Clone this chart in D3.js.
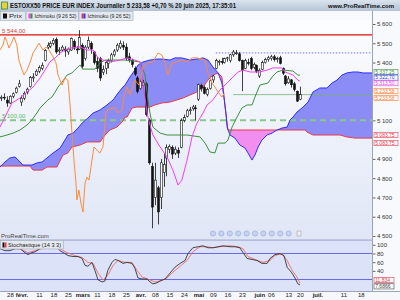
<!DOCTYPE html>
<html>
<head>
<meta charset="utf-8">
<script src="https://cdn.jsdelivr.net/npm/d3@7"></script>
<style>
  body { margin: 0; background: #fff; }
  svg { display: block; font-family: "Liberation Sans", Arial, sans-serif; }
</style>
</head>
<body>
<svg id="chart" width="400" height="300"></svg>
<script>
// daily candles, first one is day -2 (23 jan), day 0 = 27 jan, day 101 = 20 juin
var firstDay = -2;
var opens = [5215,5220,5205,5190,5225,5245,5275,5195,5215,5245,5275,5320,5335,5355,5370,5410,5480,5485,5500,5520,
  5460,5465,5470,5455,5465,5510,5470,5470,5490,5420,5480,5500,5455,5405,5420,5350,5370,5395,5410,5440,
  5465,5480,5490,5480,5430,5410,5370,5320,5265,5280,5290,5100,4860,4700,4750,4700,4830,4905,4950,4960,
  4930,4945,4960,5100,5120,5150,5160,5165,5210,5280,5270,5235,5265,5310,5370,5400,5405,5400,5420,5410,
  5440,5450,5445,5410,5370,5400,5420,5375,5385,5330,5365,5400,5415,5420,5430,5415,5425,5370,5330,5295,
  5310,5290,5250,5210];
var highs = [5230,5240,5225,5230,5245,5275,5310,5230,5250,5270,5330,5345,5365,5385,5400,5470,5505,5510,5527,5530,
  5480,5490,5485,5478,5530,5520,5485,5568,5500,5490,5535,5510,5460,5430,5430,5385,5410,5420,5450,5470,
  5500,5515,5510,5500,5450,5420,5380,5330,5320,5310,5300,5110,4880,4880,4760,4900,4930,4975,4975,4970,
  4965,4960,5110,5130,5160,5170,5180,5180,5290,5290,5280,5270,5315,5335,5420,5415,5425,5425,5430,5445,
  5465,5465,5455,5415,5420,5420,5430,5400,5390,5370,5410,5425,5435,5440,5440,5430,5435,5375,5335,5330,
  5315,5300,5255,5275];
var lows = [5200,5205,5170,5185,5215,5240,5270,5175,5205,5235,5270,5300,5330,5345,5360,5405,5470,5475,5490,5445,
  5440,5455,5430,5440,5460,5465,5445,5465,5365,5410,5470,5445,5390,5350,5305,5335,5340,5370,5400,5430,
  5455,5470,5465,5410,5400,5375,5330,5240,5260,5265,5120,4870,4540,4660,4560,4640,4755,4810,4930,4900,
  4920,4905,4955,5090,5115,5130,5150,5100,5200,5250,5235,5225,5260,5295,5365,5385,5390,5395,5405,5400,
  5430,5440,5405,5252,5365,5385,5360,5365,5345,5320,5360,5395,5405,5410,5405,5400,5390,5335,5280,5290,
  5270,5250,5195,5205];
var closes = [5220,5218,5190,5225,5238,5267,5290,5215,5240,5262,5322,5325,5355,5375,5385,5463,5490,5500,5515,5455,
  5465,5480,5460,5470,5525,5475,5465,5530,5380,5480,5515,5470,5400,5370,5320,5365,5400,5410,5440,5460,
  5490,5500,5480,5420,5415,5390,5340,5250,5300,5295,5130,4880,4650,4790,4625,4880,4870,4960,4965,4925,
  4950,4930,5100,5115,5150,5155,5170,5160,5285,5265,5240,5260,5305,5330,5410,5405,5400,5420,5425,5440,
  5455,5450,5410,5360,5410,5395,5370,5390,5355,5360,5400,5415,5425,5430,5415,5420,5395,5345,5290,5315,
  5285,5260,5200,5233.58];

// ichimoku lines: [day, price]
var tenkan = [[-2.4,5065],[0,5138],[1.7,5190],[4.5,5216],[6.9,5247],[9,5273],[11.4,5320],[13.1,5361],[14.8,5403],
  [16.6,5424],[18.3,5450],[20,5465],[21.7,5475],[25.2,5481],[27.6,5465],[29.7,5465],[31.4,5424],[33.1,5413],
  [35.5,5403],[39,5413],[41.4,5424],[44.1,5413],[45.9,5403],[47.2,5257],[48.3,5138],[49.3,5076],[50.3,5024],
  [52.8,4962],[55.2,4910],[57.2,4842],[59,4764],[60.3,4790],[62.1,4894],[63.8,5014],[65.5,5086],[67.6,5138],
  [69,5180],[71,5206],[73.4,5257],[75.9,5294],[77.9,5325],[79.7,5351],[81.4,5361],[83.8,5351],[87.2,5351],
  [89.7,5361],[91.7,5372],[94.8,5372],[95.9,5351],[98.6,5335],[100.3,5309],[101,5304]];
var kijun = [[-2.4,5014],[0,5024],[2.1,5034],[4.5,5050],[6.9,5076],[8.6,5102],[10.3,5138],[11.4,5164],[13.1,5190],
  [14.1,5206],[15.5,5221],[16.6,5247],[17.6,5273],[19,5299],[20.7,5335],[22.4,5346],[23.4,5361],[25.2,5387],
  [26.2,5366],[30.3,5366],[32.1,5398],[33.8,5413],[40.7,5413],[45.9,5403],[47.6,5335],[48.6,5206],[49.3,5138],
  [50.3,5065],[52.8,5034],[55.2,5024],[62.1,5024],[66.6,5014],[68.3,4982],[70,4936],[71.7,4931],[72.8,4982],
  [75.2,4982],[76.2,4998],[77.6,5065],[79.3,5117],[81,5164],[82.8,5180],[84.5,5180],[85.5,5221],[87.2,5283],
  [90,5294],[91.4,5325],[93.1,5351],[95.2,5361],[98.6,5356],[100.3,5335],[101,5335]];
var chikou = [[-2.4,5465],[-1.4,5491],[-0.7,5533],[0,5507],[0.7,5475],[1.7,5507],[2.4,5533],[3.4,5491],[4.1,5413],
  [5.2,5361],[5.9,5335],[6.9,5361],[7.9,5398],[9,5450],[10.3,5481],[11,5501],[12.4,5465],[13.4,5481],[14.5,5465],
  [15.9,5429],[16.9,5398],[17.6,5335],[19,5283],[20,5320],[21,5309],[21.7,5190],[22.4,5034],[23.1,4894],
  [23.8,4775],[24.1,4687],[24.8,4738],[25.5,4671],[26.2,4624],[26.9,4775],[27.6,4806],[28.3,4790],[29.3,4894],
  [30,4962],[31,4946],[32,4930],[33.1,4962],[34.1,5138],[34.8,5154],[36.2,5164],[37.2,5164],[38.3,5138],
  [39.7,5154],[40.3,5221],[41.4,5273],[42.4,5232],[44.1,5309],[45.5,5283],[46.9,5377],[48.6,5398],[50.3,5403],
  [52.1,5450],[53.4,5439],[54.5,5398],[55.5,5335],[56.9,5398],[58.6,5403],[60.3,5413],[62,5403],[63.8,5424],
  [65.5,5424],[67.2,5418],[68.3,5413],[69.3,5346],[70.7,5294],[71.7,5273],[72.8,5247],[74.1,5221],[75,5242]];
var senkouA = [[-2.4,4858],[-0.7,4884],[1,4905],[2.8,4910],[4.5,4884],[5.5,4868],[8.6,4868],[10.3,4879],[12.1,4884],
  [13.8,4905],[15.9,4931],[18.3,4956],[20,4998],[21,5024],[22.8,5034],[24.5,5060],[25.9,5086],[27.9,5112],
  [29.7,5138],[32.1,5154],[34.5,5180],[36.6,5206],[38.3,5242],[40,5273],[40.7,5283],[42.4,5325],[44.1,5361],
  [45.2,5387],[46.9,5403],[49.3,5413],[51.7,5418],[53.8,5418],[56.2,5413],[57.9,5424],[60.3,5424],[63.1,5413],
  [65.5,5418],[67.6,5424],[69.3,5413],[71,5377],[72.8,5346],[74.1,5294],[74.8,5221],[75.5,5138],[75.9,5065],
  [76.9,5024],[78.6,5008],[80.3,4972],[82.1,4956],[83.1,4931],[84.5,4894],[85.5,4920],[86.6,4962],[87.9,4998],
  [89.7,5024],[91.4,5034],[93.1,5050],[94.8,5060],[96.6,5065],[97.6,5102],[98.6,5117],[100,5143],[102.1,5169],
  [103.8,5195],[105.5,5247],[107.9,5268],[110.3,5268],[112.1,5294],[113.8,5309],[115.5,5335],[117.2,5346],
  [119.3,5351],[121,5351],[122.8,5346],[125.9,5346]];
var senkouB = [[-2.4,4863],[7.9,4863],[9,4842],[12.1,4842],[13.8,4858],[17.2,4858],[19.3,4920],[21,4931],[22.4,4962],
  [25.2,4972],[27.6,4988],[32.1,4988],[33.8,5024],[35.5,5050],[37.9,5065],[39.7,5091],[40.7,5117],[41.4,5117],
  [43.1,5164],[44.8,5169],[49.3,5169],[51,5180],[53.4,5190],[56.2,5195],[58.6,5206],[60.7,5216],[63.1,5232],
  [65.5,5247],[67.6,5273],[69.3,5309],[71,5335],[72.8,5346],[74.1,5325],[74.5,5273],[75.2,5169],[75.9,5086],
  [76.2,5050],[102.8,5050],[103.4,5040],[105.5,5024],[114.8,5024],[117.2,5014],[120,5008],[125.9,5008]];

// stochastic (14 3 3): [day, value]
var stochK = [[-2.4,91],[-0.7,86.5],[1,86.5],[2.8,91],[4.5,91],[6.2,82],[7.2,77.5],[8.6,82],[9.7,84],[11.4,91],
  [13.1,97.7],[14.8,100],[16.6,97.7],[18.3,86.5],[20,79.7],[21,75.2],[22.8,73],[24.5,73],[25.9,68.5],[26.9,52.7],
  [27.9,50.5],[29.3,59.5],[30.3,41.4],[31.4,19],[32.8,14.4],[33.8,16.7],[34.8,41.4],[36.2,59.5],[37.2,66.2],
  [38.3,64],[40,57.2],[41.4,59.5],[43.1,57.2],[44.1,46],[45.2,23.4],[46.6,21.2],[48.3,21.2],[49.3,14.4],[50.3,10],
  [51.7,12.2],[52.8,16.7],[54.5,21.2],[56.2,34.7],[57.9,48.2],[59.7,57.2],[61.4,64],[62.4,79.7],[64.1,93.2],
  [65.9,95.5],[67.6,97.7],[69.3,93.2],[71,93.2],[72.8,95.5],[74.5,97.7],[76.9,95.5],[78.6,95.5],[80.3,93.2],
  [81.4,82],[82.8,68.5],[84.5,66.2],[86.2,64],[87.9,57.2],[89.7,57.2],[90.7,68.5],[92.4,77.5],[94.1,79.7],
  [95.5,75.2],[96.6,48.2],[98.3,34.7],[99.3,23.4],[100.3,10],[101,7.6866]];
var stochD = [[-2.4,93.2],[1,91],[4.5,91],[7.2,82],[9.7,86.5],[13.1,93.2],[15.5,97.7],[17.6,93.2],[20.7,82],
  [23.4,75.2],[25.9,70.7],[27.9,59.5],[29.7,57.2],[31.4,34.7],[33.1,19],[34.8,30],[36.6,52.7],[38.3,64],
  [40.7,59.5],[43.1,59.5],[44.8,41.4],[46.6,25.7],[48.6,21.2],[51,14.4],[52.8,16.7],[55.2,23.4],[57.2,37],
  [59.7,50.5],[62.1,64],[64.1,84],[66.6,95.5],[69,95.5],[71,93.2],[73.4,95.5],[76.9,97.7],[79.7,95.5],[81.4,91],
  [83.1,73],[85.5,66.2],[88.3,59.5],[90.7,64],[92.4,75.2],[94.8,79.7],[96.6,64],[98.3,41.4],[100,25.7],[101,11.834]];

// price labels that are not hidden behind the value tags
var priceTicks = [4500, 4600, 4700, 4800, 4900, 5100, 5400, 5500, 5600];
var stochTicks = [40, 60, 80, 100];
var xTickDays = [1, 5, 11, 16, 21, 26, 31, 36, 41, 46, 51, 56, 61, 66, 71, 76, 81, 87, 91, 97, 101, 107, 116, 122];
var xTickLabels = ['28', 'févr.', '11', '18', '25', 'mars', '11', '18', '25', 'avr.', '08', '15', '24', 'mai',
  '09', '16', '23', 'juin', '06', '13', '20', 'juil.', '11', '18'];
var monthNames = ['févr.', 'mars', 'avr.', 'mai', 'juin', 'juil.'];

var resistance = 5544, support = 5100, dottedLevel = 5450, lowLevel = 5233.58;
var stochLevels = [20, 80];

var svg = d3.select('#chart');
var W = 372;

var x = d3.scaleLinear().domain([-2.41, 125.86]).range([0, W]);
var y = d3.scaleLinear().domain([4500, 5600]).range([236, 24]);
var ys = d3.scaleLinear().domain([0, 100]).range([288.2, 244.8]);

var defs = svg.append('defs');
var bg = defs.append('linearGradient').attr('id', 'bgMain').attr('x1', 0).attr('x2', 0).attr('y1', 0).attr('y2', 1);
bg.append('stop').attr('offset', 0).attr('stop-color', '#fcfdff');
bg.append('stop').attr('offset', 1).attr('stop-color', '#e0e6f6');
var hd = defs.append('linearGradient').attr('id', 'bgHead').attr('x1', 0).attr('x2', 0).attr('y1', 0).attr('y2', 1);
hd.append('stop').attr('offset', 0).attr('stop-color', '#dbe4ee');
hd.append('stop').attr('offset', 1).attr('stop-color', '#b3c3d5');

defs.append('clipPath').attr('id', 'clipMain').append('rect')
  .attr('x', 0).attr('y', 20).attr('width', W).attr('height', 218);

var lineFn = d3.line().x(function(d) { return x(d[0]); }).y(function(d) { return y(d[1]); });

// cloud split along Senkou B
defs.append('clipPath').attr('id', 'aboveB').append('path')
  .attr('d', d3.area().x(function(d) { return x(d[0]); }).y0(20).y1(function(d) { return y(d[1]); })(senkouB));
defs.append('clipPath').attr('id', 'belowB').append('path')
  .attr('d', d3.area().x(function(d) { return x(d[0]); }).y0(function(d) { return y(d[1]); }).y1(240)(senkouB));

// backgrounds
svg.append('rect').attr('x', 0).attr('y', 0).attr('width', 400).attr('height', 300).attr('fill', '#f8f9fd');
svg.append('rect').attr('x', 0).attr('y', 20).attr('width', W).attr('height', 219).attr('fill', 'url(#bgMain)');
svg.append('rect').attr('x', 0).attr('y', 240).attr('width', W).attr('height', 51).attr('fill', '#dce2f7');

var main = svg.append('g').attr('clip-path', 'url(#clipMain)');

var cloudPath = lineFn(senkouA) + 'L' + senkouB.slice().reverse().map(function(d) {
  return x(d[0]) + ',' + y(d[1]);
}).join('L') + 'Z';
main.append('path').attr('d', cloudPath).attr('fill', '#8c8cf6').attr('clip-path', 'url(#aboveB)');
main.append('path').attr('d', cloudPath).attr('fill', '#f28ef0').attr('clip-path', 'url(#belowB)');

// horizontal levels
main.append('line').attr('x1', 0).attr('x2', W).attr('y1', y(support)).attr('y2', y(support))
  .attr('stroke', '#86c986').attr('stroke-width', 2).attr('stroke-dasharray', '6,4');
main.append('line').attr('x1', 0).attr('x2', W).attr('y1', y(resistance)).attr('y2', y(resistance))
  .attr('stroke', '#dd1111').attr('stroke-width', 1.3);
main.append('line').attr('x1', x(72)).attr('x2', W).attr('y1', y(dottedLevel)).attr('y2', y(dottedLevel))
  .attr('stroke', '#5a5af0').attr('stroke-width', 0.8).attr('stroke-dasharray', '1.5,1.5');
main.append('line').attr('x1', x(78)).attr('x2', W).attr('y1', y(lowLevel)).attr('y2', y(lowLevel))
  .attr('stroke', '#74b274').attr('stroke-width', 0.8);

main.append('path').attr('d', lineFn(senkouB)).attr('fill', 'none').attr('stroke', '#e8364a').attr('stroke-width', 1);
main.append('path').attr('d', lineFn(senkouA)).attr('fill', 'none').attr('stroke', '#2f2fff').attr('stroke-width', 1);

// candles
var candles = opens.map(function(o, i) {
  return { day: firstDay + i, o: o, h: highs[i], l: lows[i], c: closes[i] };
});
var cg = main.append('g');
cg.selectAll('.wick').data(candles).enter().append('line')
  .attr('x1', function(d) { return Math.round(x(d.day)) + 0.5; })
  .attr('x2', function(d) { return Math.round(x(d.day)) + 0.5; })
  .attr('y1', function(d) { return y(d.h); })
  .attr('y2', function(d) { return y(d.l); })
  .attr('stroke', '#111').attr('stroke-width', 0.8);
cg.selectAll('.body').data(candles).enter().append('rect')
  .attr('x', function(d) { return Math.round(x(d.day)) - 0.5; })
  .attr('width', 2)
  .attr('y', function(d) { return y(Math.max(d.o, d.c)); })
  .attr('height', function(d) { return Math.max(0.8, Math.abs(y(d.o) - y(d.c))); })
  .attr('fill', function(d) { return d.c >= d.o ? '#fff' : '#111'; })
  .attr('stroke', '#111').attr('stroke-width', 0.6);

main.append('path').attr('d', lineFn(kijun)).attr('fill', 'none').attr('stroke', '#3d8f3d').attr('stroke-width', 1);
main.append('path').attr('d', lineFn(tenkan)).attr('fill', 'none').attr('stroke', '#f040f0').attr('stroke-width', 1);
main.append('path').attr('d', lineFn(chikou)).attr('fill', 'none').attr('stroke', '#ff8a3c').attr('stroke-width', 1);

// level labels
svg.append('text').attr('x', 2).attr('y', y(resistance) - 2).attr('font-size', 6)
  .attr('fill', '#e03a3a').text('5 544,00');
svg.append('text').attr('x', 2).attr('y', y(support) - 2).attr('font-size', 6)
  .attr('fill', '#5cb85c').text('5 100,00');

// right price axis
var fmt = function(v) { return d3.format(',')(v).replace(',', ' '); };
svg.append('line').attr('x1', W + 0.5).attr('x2', W + 0.5).attr('y1', 11).attr('y2', 291)
  .attr('stroke', '#9aa4b6').attr('stroke-width', 1);
var ax = svg.append('g').attr('transform', 'translate(' + (W + 1) + ',0)')
  .call(d3.axisRight(y).tickValues(priceTicks).tickFormat(fmt).tickSize(2.5).tickPadding(1.5));
ax.select('.domain').remove();
ax.selectAll('text').attr('font-size', 6).attr('fill', '#333').attr('font-family', '"Liberation Sans", Arial');
ax.selectAll('line').attr('stroke', '#666');

// value tags on the axis
var tags = [
  { t: '5 337,25', c: '#3d8f3d', at: 5351 },
  { t: '5 322,70', c: '#2f2fff', at: 5322 },
  { t: '5 313,50', c: '#e040e0', at: 5293 },
  { t: '5 233,58', c: '#ff7a2c', at: 5252 },
  { t: '5 233,58', c: '#ff7a2c', at: 5216 },
  { t: '5 083,75', c: '#e8364a', at: 5024 },
  { t: '5 083,75', c: '#e8364a', at: 4982 }
];
var tg = svg.append('g').selectAll('g').data(tags).enter().append('g')
  .attr('transform', function(d) { return 'translate(' + (W + 2) + ',' + y(d.at) + ')'; });
tg.append('rect').attr('x', 0).attr('y', -2.6).attr('width', 24).attr('height', 5.2)
  .attr('fill', '#fff').attr('stroke', function(d) { return d.c; }).attr('stroke-width', 0.6);
tg.append('text').attr('x', 1.2).attr('y', 1.8).attr('font-size', 5)
  .attr('fill', function(d) { return d.c; }).text(function(d) { return d.t; });

// stochastic panel
svg.append('line').attr('x1', 0).attr('x2', W).attr('y1', 240).attr('y2', 240).attr('stroke', '#8e96c4');
svg.selectAll('.slev').data(stochLevels).enter().append('line')
  .attr('x1', 0).attr('x2', W).attr('y1', function(d) { return ys(d); }).attr('y2', function(d) { return ys(d); })
  .attr('stroke', '#6767e6').attr('stroke-width', 1);
var sline = d3.line().x(function(d) { return x(d[0]); }).y(function(d) { return ys(d[1]); });
svg.append('path').attr('d', sline(stochD)).attr('fill', 'none').attr('stroke', '#f06a6a').attr('stroke-width', 0.9);
svg.append('path').attr('d', sline(stochK)).attr('fill', 'none').attr('stroke', '#333').attr('stroke-width', 0.9);

var sax = svg.append('g').attr('transform', 'translate(' + (W + 1) + ',0)')
  .call(d3.axisRight(ys).tickValues(stochTicks).tickSize(2.5).tickPadding(1.5));
sax.select('.domain').remove();
sax.selectAll('text').attr('font-size', 6).attr('fill', '#333').attr('font-family', '"Liberation Sans", Arial');
sax.selectAll('line').attr('stroke', '#666');

var stags = [{ t: '11,834', c: '#e8364a', v: 11.834, dy: -3 }, { t: '7,6866', c: '#444', v: 7.6866, dy: 1.5 }];
var sg = svg.append('g').selectAll('g').data(stags).enter().append('g')
  .attr('transform', function(d) { return 'translate(' + (W + 2) + ',' + (ys(d.v) + d.dy) + ')'; });
sg.append('rect').attr('x', 0).attr('y', -2.6).attr('width', 20).attr('height', 5.2)
  .attr('fill', '#fff').attr('stroke', function(d) { return d.c; }).attr('stroke-width', 0.6);
sg.append('text').attr('x', 1.2).attr('y', 1.8).attr('font-size', 5)
  .attr('fill', function(d) { return d.c; }).text(function(d) { return d.t; });

// date axis
svg.append('rect').attr('x', 0).attr('y', 291).attr('width', 400).attr('height', 9).attr('fill', '#f6f7fb');
svg.append('line').attr('x1', 0).attr('x2', 400).attr('y1', 291.5).attr('y2', 291.5).attr('stroke', '#9aa4b6');
var xa = svg.append('g').attr('transform', 'translate(0,291)')
  .call(d3.axisBottom(x).tickValues(xTickDays).tickSize(0).tickPadding(2)
    .tickFormat(function(d, i) { return xTickLabels[i]; }));
xa.select('.domain').remove();
xa.selectAll('text').attr('font-size', 6).attr('fill', '#222').attr('font-family', '"Liberation Sans", Arial')
  .attr('font-weight', function(d, i) { return monthNames.indexOf(xTickLabels[i]) >= 0 ? 'bold' : 'normal'; });

// header
svg.append('rect').attr('x', 0).attr('y', 0).attr('width', 400).attr('height', 11).attr('fill', 'url(#bgHead)');
svg.append('rect').attr('x', 1.5).attr('y', 2).attr('width', 6).attr('height', 7).attr('fill', '#e8d040').attr('stroke', '#3a8a3a').attr('stroke-width', 0.8);
svg.append('text').attr('x', 10).attr('y', 8.3).attr('font-size', 6.8).attr('font-weight', 'bold').attr('fill', '#111')
  .attr('textLength', 226).attr('lengthAdjust', 'spacingAndGlyphs')
  .text('ESTOXX50 PRICE EUR INDEX Journalier 5 233,58 +0,70 % 20 juin 2025, 17:35:01');
svg.append('text').attr('x', 394).attr('y', 8.2).attr('font-size', 6).attr('font-weight', 'bold').attr('fill', '#111')
  .attr('text-anchor', 'end').text('www.ProRealTime.com');

// legend boxes
var legend = [
  { t: 'Prix', x0: 0, w: 25, tw: 13, cols: ['#111', '#111'] },
  { t: 'Ichimoku (9 26 52)', x0: 25.5, w: 52.5, tw: 42, cols: ['#f040f0', '#3d8f3d'] },
  { t: 'Ichimoku (9 26 52)', x0: 78.5, w: 54, tw: 43, cols: ['#e8364a', '#2f2fff'] }
];
var lg = svg.append('g').selectAll('g').data(legend).enter().append('g');
lg.append('rect').attr('x', function(d) { return d.x0 + 0.5; }).attr('y', 11.5).attr('width', function(d) { return d.w; })
  .attr('height', 9).attr('fill', '#e4e9f0').attr('stroke', '#a8b2c0').attr('stroke-width', 0.7);
lg.append('rect').attr('x', function(d) { return d.x0 + 3; }).attr('y', 13.5).attr('width', 2).attr('height', 5)
  .attr('fill', function(d) { return d.cols[0]; });
lg.append('rect').attr('x', function(d) { return d.x0 + 5; }).attr('y', 13.5).attr('width', 2).attr('height', 5)
  .attr('fill', function(d) { return d.cols[1]; });
lg.append('text').attr('x', function(d) { return d.x0 + 9; }).attr('y', 18.3).attr('font-size', 6).attr('fill', '#222')
  .attr('textLength', function(d) { return d.tw; }).attr('lengthAdjust', 'spacingAndGlyphs')
  .text(function(d) { return d.t; });

// stochastic legend
svg.append('rect').attr('x', 0.5).attr('y', 240.5).attr('width', 63).attr('height', 8.5)
  .attr('fill', '#e4e9f0').attr('stroke', '#a8b2c0').attr('stroke-width', 0.7);
svg.append('rect').attr('x', 2.5).attr('y', 242.5).attr('width', 2).attr('height', 5).attr('fill', '#111');
svg.append('rect').attr('x', 4.5).attr('y', 242.5).attr('width', 2).attr('height', 5).attr('fill', '#e8364a');
svg.append('text').attr('x', 8).attr('y', 247).attr('font-size', 6).attr('fill', '#222')
  .attr('textLength', 53).attr('lengthAdjust', 'spacingAndGlyphs').text('Stochastique (14 3 3)');

svg.append('text').attr('x', 1).attr('y', 237.5).attr('font-size', 6).attr('fill', '#444').text('ProRealTime.com');

// zoom buttons
var buttons = d3.range(10);
svg.append('g').selectAll('circle').data(buttons).enter().append('circle')
  .attr('cx', function(d) { return 213 + d * 8.4; }).attr('cy', 233.5).attr('r', 2.6)
  .attr('fill', '#c6d4f4').attr('stroke', '#8ea2d8').attr('stroke-width', 0.6);
svg.append('rect').attr('x', 297).attr('y', 231).attr('width', 4).attr('height', 5)
  .attr('fill', '#eee').attr('stroke', '#999').attr('stroke-width', 0.5);
</script>
</body>
</html>
